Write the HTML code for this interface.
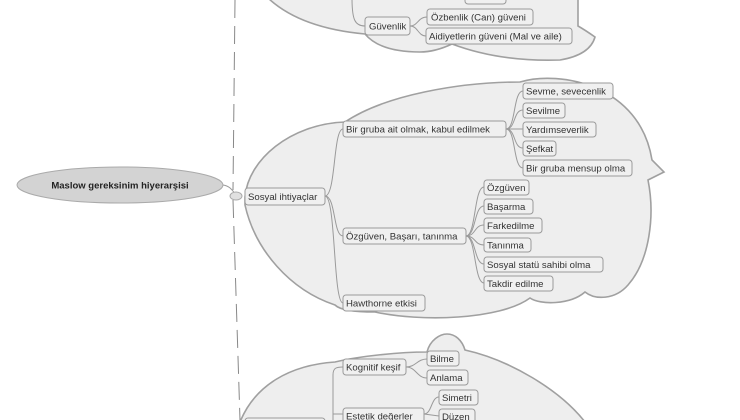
<!DOCTYPE html>
<html><head><meta charset="utf-8"><style>
html,body{margin:0;padding:0;background:#fff;}
svg{display:block;font-family:"Liberation Sans","DejaVu Sans",sans-serif;}
.cl{fill:#eeeeee;stroke:#a0a0a0;stroke-width:1.6;}
.b{fill:#f0f0f0;stroke:#9a9a9a;stroke-width:1;}
.t{font-size:9.6px;fill:#333;}
.c{fill:none;stroke:#9a9a9a;stroke-width:1;}
</style></head><body>
<svg width="740" height="420" viewBox="0 0 740 420" xmlns="http://www.w3.org/2000/svg">
<line x1="235" y1="0" x2="233" y2="190" stroke="#888" stroke-width="1" stroke-dasharray="18,8"/>
<line x1="233" y1="200" x2="240" y2="420" stroke="#888" stroke-width="1" stroke-dasharray="18,8"/>
<ellipse cx="120" cy="185" rx="103" ry="18" fill="#d3d3d3" stroke="#aaa" stroke-width="1"/>
<text x="120" y="188.5" text-anchor="middle" font-size="9.5" font-weight="bold" fill="#222">Maslow gereksinim hiyerarşisi</text>
<path d="M223,185 C230,186 232,190 236,195" class="c"/>
<!-- top cloud -->
<path class="cl" d="M268,-2 Q300,28 365,34 Q380,52 420,52 Q435,52 452,44 Q500,62 560,60 Q590,55 595,37 Q585,30 578,26 L578,-2 Z"/>
<path class="c" d="M352,-2 C352,20 355,26 365,26"/>
<path class="c" d="M410,26 C418,26 418,17 427,17"/><path class="c" d="M410,26 C418,26 418,36 426,36"/>
<rect class="b" x="465" y="-6" width="41" height="10" rx="3"/>
<rect class="b" x="365" y="17" width="45" height="18" rx="3"/><text class="t" x="369" y="29.5">Güvenlik</text>
<rect class="b" x="427" y="9" width="106" height="16" rx="3"/><text class="t" x="431" y="20.5">Özbenlik (Can) güveni</text>
<rect class="b" x="426" y="28" width="146" height="16" rx="3"/><text class="t" x="429" y="39.5">Aidiyetlerin güveni (Mal ve aile)</text>
<!-- middle cloud -->
<path class="cl" d="M245,197 C248,160 290,124 345,122 C385,95 460,82 520,82 C560,70 640,85 652,160 L664,172 L648,180 C655,215 650,260 628,285 C615,300 595,300 585,292 C570,305 540,305 530,298 C500,320 420,322 375,312 C355,312 340,310 335,305 C290,290 255,250 245,205 Z"/>
<ellipse cx="236" cy="196" rx="6" ry="4" fill="#e0e0e0" stroke="#aaa"/>
<path class="c" d="M325,196 C336,196 333,129 343,129"/><path class="c" d="M325,196 C336,196 333,236 343,236"/><path class="c" d="M325,196 C336,196 333,303 343,303"/>
<g class="c">
<path d="M506,129 C516,129 513,91 523,91"/><path d="M506,129 C516,129 513,110 523,110"/><path d="M506,129 L523,129"/><path d="M506,129 C516,129 513,148 523,148"/><path d="M506,129 C516,129 513,168 523,168"/>
<path d="M466,236 C476,236 474,187 484,187"/><path d="M466,236 C476,236 474,206 484,206"/><path d="M466,236 C476,236 474,225 484,225"/><path d="M466,236 C476,236 474,245 484,245"/><path d="M466,236 C476,236 474,264 484,264"/><path d="M466,236 C476,236 474,283 484,283"/>
</g>
<rect class="b" x="245" y="188" width="80" height="17" rx="3"/><text class="t" x="248" y="200">Sosyal ihtiyaçlar</text>
<rect class="b" x="343" y="121" width="163" height="16" rx="3"/><text class="t" x="346" y="132.5">Bir gruba ait olmak, kabul edilmek</text>
<rect class="b" x="523" y="83" width="90" height="16" rx="3"/><text class="t" x="526" y="94.5">Sevme, sevecenlik</text>
<rect class="b" x="523" y="103" width="42" height="15" rx="3"/><text class="t" x="526" y="114">Sevilme</text>
<rect class="b" x="523" y="122" width="73" height="15" rx="3"/><text class="t" x="526" y="133">Yardımseverlik</text>
<rect class="b" x="523" y="141" width="33" height="15" rx="3"/><text class="t" x="526" y="152">Şefkat</text>
<rect class="b" x="523" y="160" width="109" height="16" rx="3"/><text class="t" x="526" y="171.5">Bir gruba mensup olma</text>
<rect class="b" x="343" y="228" width="123" height="16" rx="3"/><text class="t" x="346" y="239.5">Özgüven, Başarı, tanınma</text>
<rect class="b" x="484" y="180" width="45" height="15" rx="3"/><text class="t" x="487" y="191">Özgüven</text>
<rect class="b" x="484" y="199" width="49" height="15" rx="3"/><text class="t" x="487" y="210">Başarma</text>
<rect class="b" x="484" y="218" width="58" height="15" rx="3"/><text class="t" x="487" y="229">Farkedilme</text>
<rect class="b" x="484" y="238" width="47" height="14" rx="3"/><text class="t" x="487" y="248.5">Tanınma</text>
<rect class="b" x="484" y="257" width="119" height="15" rx="3"/><text class="t" x="487" y="268">Sosyal statü sahibi olma</text>
<rect class="b" x="484" y="276" width="69" height="15" rx="3"/><text class="t" x="487" y="287">Takdir edilme</text>
<rect class="b" x="343" y="295" width="82" height="16" rx="3"/><text class="t" x="346" y="306.5">Hawthorne etkisi</text>
<!-- bottom cloud -->
<path class="cl" d="M240,422 C255,385 290,365 335,362 C360,356 400,352 427,352 C430,340 440,334 447,334 C455,334 462,340 465,350 C510,360 560,390 585,422 Z"/>
<g class="c">
<path d="M333,422 L333,375 C333,368 336,367 343,367"/><path d="M333,414 L343,414"/>
<path d="M406,367 C416,367 417,359 427,359"/><path d="M406,367 C416,367 417,378 427,378"/>
<path d="M424,414 C432,414 431,397 439,397"/><path d="M424,414 L439,416"/>
</g>
<rect class="b" x="343" y="359" width="63" height="16" rx="3"/><text class="t" x="346" y="370.5">Kognitif keşif</text>
<rect class="b" x="427" y="351" width="32" height="15" rx="3"/><text class="t" x="430" y="362">Bilme</text>
<rect class="b" x="427" y="370" width="41" height="15" rx="3"/><text class="t" x="430" y="381">Anlama</text>
<rect class="b" x="439" y="390" width="39" height="15" rx="3"/><text class="t" x="442" y="401">Simetri</text>
<rect class="b" x="439" y="409" width="36" height="15" rx="3"/><text class="t" x="442" y="420">Düzen</text>
<rect class="b" x="343" y="408" width="81" height="16" rx="3"/><text class="t" x="346" y="419.5">Estetik değerler</text>
<rect class="b" x="245" y="418" width="80" height="6" rx="3"/>
</svg>
</body></html>
